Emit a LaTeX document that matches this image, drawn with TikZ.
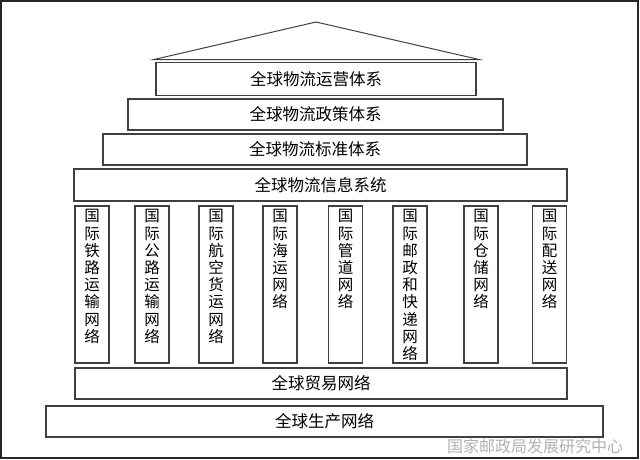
\documentclass[tikz,border=0pt]{standalone}
\usepackage{fontspec}
\newfontfamily\cjk{Noto Sans CJK SC}
\usetikzlibrary{positioning}

\begin{document}
\begin{tikzpicture}[x=1pt,y=-1pt,line join=miter,
layer/.style={draw=black!75,line width=1.2pt,inner sep=0pt,text=black,
  font=\cjk\fontsize{16.5}{17}\selectfont},
pillar/.style={layer,minimum width=34pt,minimum height=157pt},
pillartext/.style={inner sep=0pt,align=center,text=black,
  font=\cjk\fontsize{15.5}{17.2}\selectfont}]
\useasboundingbox (0,0) rectangle (640,459);
\draw[black!85,line width=2pt] (1,1) rectangle (638,458);
% roof
\coordinate (rl) at (154,59.5);
\coordinate (rt) at (316,22);
\coordinate (rr) at (479,59.5);
\draw[black!75,line width=1pt] (rl) -- (rt) -- (rr) -- cycle;
% upper layers
\node[layer,minimum width=320pt,minimum height=33pt] (ops) at (316,79) {全球物流运营体系};
\node[layer,minimum width=375pt,minimum height=31pt] (pol) at (315.5,114.5) {全球物流政策体系};
\node[layer,minimum width=424pt,minimum height=31pt] (std) at (315,149.5) {全球物流标准体系};
\node[layer,minimum width=493pt,minimum height=32pt] (inf) at (320.5,185) {全球物流信息系统};
% pillars
\foreach \x/\n/\t in {92/rail/{国\\际\\铁\\路\\运\\输\\网\\络},
  152/road/{国\\际\\公\\路\\运\\输\\网\\络},
  216/air/{国\\际\\航\\空\\货\\运\\网\\络},
  280/sea/{国\\际\\海\\运\\网\\络},
  345.5/pipe/{国\\际\\管\\道\\网\\络},
  410/post/{国\\际\\邮\\政\\和\\快\\递\\网\\络},
  481/store/{国\\际\\仓\\储\\网\\络},
  549.5/deliv/{国\\际\\配\\送\\网\\络}}
{\node[pillar] (\n) at (\x,284.5) {};
 \node[pillartext,below=4pt of \n.north] (\n t) {\t};}
% base layers
\node[layer,minimum width=492pt,minimum height=31pt] (trade) at (321,383.5) {全球贸易网络};
\node[layer,minimum width=557pt,minimum height=31pt] (prod) at (324.5,421.5) {全球生产网络};
\node[text=black!30,inner sep=0pt,font=\cjk\fontsize{16}{16}\selectfont] (mark) at (535,446) {国家邮政局发展研究中心};
\end{tikzpicture}
\end{document}
